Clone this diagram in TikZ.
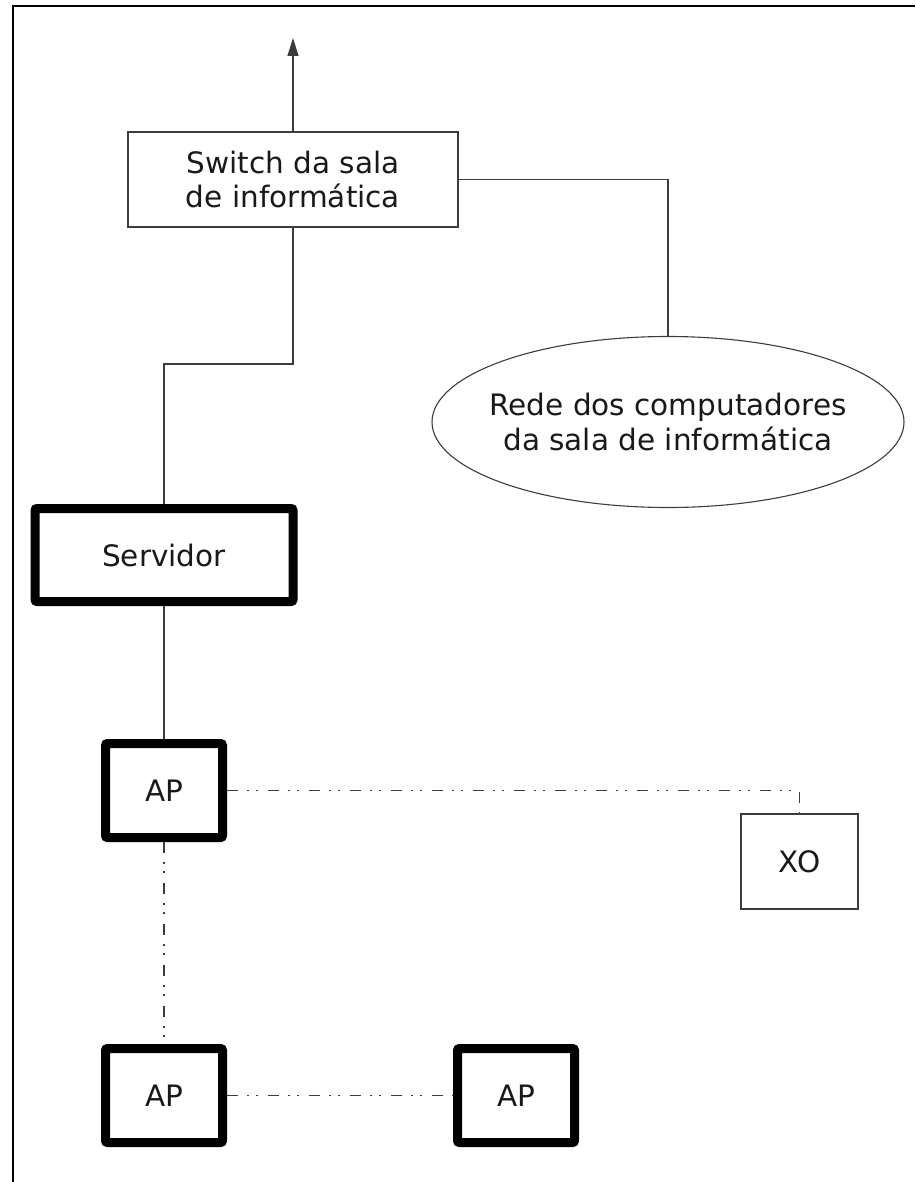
\documentclass[tikz,border=0pt]{standalone}
\usepackage{fontspec}
\setmainfont{DejaVu Sans}
\usetikzlibrary{arrows.meta,shapes.geometric}
\definecolor{linegray}{HTML}{3C3C3C}
\tikzstyle{label font}=[font=\fontsize{29.5}{34.5}\selectfont, text=black!90, align=center]
\tikzstyle{thin box}=[label font, draw=linegray, line width=1.3pt,
    minimum width=117pt, minimum height=95pt, inner sep=0pt]
\tikzstyle{thick box}=[label font, draw=black, line width=9pt, rounded corners=2pt,
    minimum width=117pt, minimum height=94pt, inner sep=0pt]
\tikzstyle{rede}=[label font, ellipse, draw=linegray, line width=1.1pt,
    minimum width=472pt, minimum height=171pt, inner xsep=-12pt, inner ysep=0pt]
\tikzstyle{cable}=[draw=linegray, line width=1.3pt]
\tikzstyle{wifi}=[draw=linegray, line width=1.3pt,
    dash pattern=on 11pt off 9pt on 2pt off 7pt on 2pt off 10pt]

\begin{document}
\begin{tikzpicture}[x=1pt,y=-1pt]
  \useasboundingbox (0,0) rectangle (915,1182);
  \draw[line width=1.6pt] (915,6) -- (13,6) -- (13,1182);

  \node[thin box, minimum width=330pt] (switch) at (293,179.5) {Switch da sala\\de informática};
  \node[rede] (rede) at (668,422) {Rede dos computadores\\da sala de informática};
  \node[thick box, minimum width=258pt, minimum height=93pt] (servidor) at (164,555) {Servidor};
  \node[thick box] (ap1) at (164,790.5) {AP};
  \node[thick box] (ap2) at (164,1095.5) {AP};
  \node[thick box] (ap3) at (516,1095.5) {AP};
  \node[thin box] (xo) at (799.5,861.5) {XO};
  \coordinate (saida) at (293,38);

  \draw[cable, -{Triangle[length=18pt,width=11pt]}] (switch.north) -- (saida);
  \draw[cable] (switch.south) |- (164,364) -- (servidor.north);
  \draw[cable] (switch.east) -| (rede.north);
  \draw[cable] (servidor.south) -- (ap1.north);

  \draw[wifi] (ap1.east) -| (xo.north);
  \draw[wifi] (ap1.south) -- (ap2.north);
  \draw[wifi] (ap2.east) -- (ap3.west);
\end{tikzpicture}
\end{document}
